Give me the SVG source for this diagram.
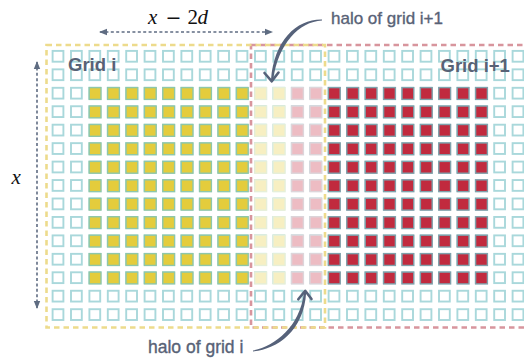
<svg xmlns="http://www.w3.org/2000/svg" xmlns:xlink="http://www.w3.org/1999/xlink" width="524" height="360" viewBox="0 0 524 360">
<style>
.e{fill:#fff;stroke:#A9D8DB;stroke-width:1.9}
.y{fill:#E4CC3C;stroke:#8EC7A9;stroke-width:1.4}
.ly{fill:#F7EFC2;stroke:#E6EFD8;stroke-width:1.4}
.lp{fill:#EDBCC3;stroke:#DDD5DA;stroke-width:1.4}
.r{fill:#C12A3E;stroke:#7FA1AB;stroke-width:1.4}
.box{fill:none;stroke-width:2.6;stroke-dasharray:5.5 4}
.lbl{font-family:"Liberation Sans",Arial,sans-serif;fill:#586276}
.med{stroke:#586276;stroke-width:0.35}
.dim{fill:none;stroke:#5F6C82;stroke-width:1.6;stroke-dasharray:3 2.4}
.math{font-family:"Liberation Serif","Times New Roman",serif;fill:#111}
.curve{fill:#56627A}
.head{fill:none;stroke:#56627A;stroke-width:2.6;stroke-linecap:round;stroke-linejoin:round}
</style>
<defs>
<marker id="ah" viewBox="0 0 8 8" refX="7" refY="4" markerWidth="8" markerHeight="8" markerUnits="userSpaceOnUse" orient="auto-start-reverse">
<path d="M0,0.8 L8,4 L0,7.2 Z" fill="#5F6C82"/>
</marker>
<g id="erow">
<rect class="e" x="52.6" y="0" width="10.8" height="10.8"/>
<rect class="e" x="71" y="0" width="10.8" height="10.8"/>
<rect class="e" x="89.4" y="0" width="10.8" height="10.8"/>
<rect class="e" x="107.8" y="0" width="10.8" height="10.8"/>
<rect class="e" x="126.2" y="0" width="10.8" height="10.8"/>
<rect class="e" x="144.6" y="0" width="10.8" height="10.8"/>
<rect class="e" x="163" y="0" width="10.8" height="10.8"/>
<rect class="e" x="181.4" y="0" width="10.8" height="10.8"/>
<rect class="e" x="199.8" y="0" width="10.8" height="10.8"/>
<rect class="e" x="218.2" y="0" width="10.8" height="10.8"/>
<rect class="e" x="236.6" y="0" width="10.8" height="10.8"/>
<rect class="e" x="255" y="0" width="10.8" height="10.8"/>
<rect class="e" x="273.4" y="0" width="10.8" height="10.8"/>
<rect class="e" x="291.8" y="0" width="10.8" height="10.8"/>
<rect class="e" x="310.2" y="0" width="10.8" height="10.8"/>
<rect class="e" x="328.6" y="0" width="10.8" height="10.8"/>
<rect class="e" x="347" y="0" width="10.8" height="10.8"/>
<rect class="e" x="365.4" y="0" width="10.8" height="10.8"/>
<rect class="e" x="383.8" y="0" width="10.8" height="10.8"/>
<rect class="e" x="402.2" y="0" width="10.8" height="10.8"/>
<rect class="e" x="420.6" y="0" width="10.8" height="10.8"/>
<rect class="e" x="439" y="0" width="10.8" height="10.8"/>
<rect class="e" x="457.4" y="0" width="10.8" height="10.8"/>
<rect class="e" x="475.8" y="0" width="10.8" height="10.8"/>
<rect class="e" x="494.2" y="0" width="10.8" height="10.8"/>
<rect class="e" x="512.6" y="0" width="10.8" height="10.8"/>
</g>
<g id="frow">
<rect class="y" x="89.2" y="-0.2" width="11.8" height="11.8"/>
<rect class="y" x="107.6" y="-0.2" width="11.8" height="11.8"/>
<rect class="y" x="126" y="-0.2" width="11.8" height="11.8"/>
<rect class="y" x="144.4" y="-0.2" width="11.8" height="11.8"/>
<rect class="y" x="162.8" y="-0.2" width="11.8" height="11.8"/>
<rect class="y" x="181.2" y="-0.2" width="11.8" height="11.8"/>
<rect class="y" x="199.6" y="-0.2" width="11.8" height="11.8"/>
<rect class="y" x="218" y="-0.2" width="11.8" height="11.8"/>
<rect class="y" x="236.4" y="-0.2" width="11.8" height="11.8"/>
<rect class="ly" x="254.8" y="-0.2" width="11.8" height="11.8"/>
<rect class="ly" x="273.2" y="-0.2" width="11.8" height="11.8"/>
<rect class="lp" x="291.6" y="-0.2" width="11.8" height="11.8"/>
<rect class="lp" x="310" y="-0.2" width="11.8" height="11.8"/>
<rect class="r" x="328.4" y="-0.2" width="11.8" height="11.8"/>
<rect class="r" x="346.8" y="-0.2" width="11.8" height="11.8"/>
<rect class="r" x="365.2" y="-0.2" width="11.8" height="11.8"/>
<rect class="r" x="383.6" y="-0.2" width="11.8" height="11.8"/>
<rect class="r" x="402" y="-0.2" width="11.8" height="11.8"/>
<rect class="r" x="420.4" y="-0.2" width="11.8" height="11.8"/>
<rect class="r" x="438.8" y="-0.2" width="11.8" height="11.8"/>
<rect class="r" x="457.2" y="-0.2" width="11.8" height="11.8"/>
<rect class="r" x="475.6" y="-0.2" width="11.8" height="11.8"/>
</g>
</defs>
<rect width="524" height="360" fill="#fff"/>
<g id="cells">
<use href="#erow" y="50.9"/>
<use href="#erow" y="69.35"/>
<use href="#erow" y="87.8"/>
<use href="#erow" y="106.25"/>
<use href="#erow" y="124.7"/>
<use href="#erow" y="143.15"/>
<use href="#erow" y="161.6"/>
<use href="#erow" y="180.05"/>
<use href="#erow" y="198.5"/>
<use href="#erow" y="216.95"/>
<use href="#erow" y="235.4"/>
<use href="#erow" y="253.85"/>
<use href="#erow" y="272.3"/>
<use href="#erow" y="290.75"/>
<use href="#erow" y="309.2"/>
<use href="#frow" y="87.8"/>
<use href="#frow" y="106.25"/>
<use href="#frow" y="124.7"/>
<use href="#frow" y="143.15"/>
<use href="#frow" y="161.6"/>
<use href="#frow" y="180.05"/>
<use href="#frow" y="198.5"/>
<use href="#frow" y="216.95"/>
<use href="#frow" y="235.4"/>
<use href="#frow" y="253.85"/>
<use href="#frow" y="272.3"/>
</g>
<g id="grid-i1">
<rect class="box" x="251" y="45" width="285" height="282.5" stroke="#D8959D"/>
<text class="lbl" x="440.5" y="71.5" font-size="18.5" font-weight="bold">Grid i+1</text>
</g>
<g id="grid-i">
<rect class="box" x="46.5" y="45" width="278.5" height="282.5" stroke="#EDDB8C"/>
<text class="lbl" x="68" y="70.5" font-size="18.5" font-weight="bold">Grid i</text>
</g>
<g id="connectors">
<line class="dim" x1="100" y1="32" x2="272" y2="32" marker-start="url(#ah)" marker-end="url(#ah)"/>
<line class="dim" x1="37" y1="62" x2="37" y2="308" marker-start="url(#ah)" marker-end="url(#ah)"/>
<path class="curve" d="M322,19.6 C297,19 274,40 271,80 L273.2,80 C278,44 299,21.5 322,20.4 Z"/>
<polyline class="head" points="264.5,73 271.8,81.3 278.5,72.5"/>
<path class="curve" d="M253,351.4 C276,349.5 304,332 306.2,292 L304,292 C300,328 274,346 253,350.6 Z"/>
<polyline class="head" points="298.3,299.3 305.2,290.8 311.5,299"/>
</g>
<g id="labels">
<text class="lbl med" x="331" y="23.5" font-size="17">halo of grid i+1</text>
<text class="lbl med" x="148" y="352.5" font-size="17.5">halo of grid i</text>
<text class="math" x="148" y="24" font-size="21" font-style="italic">x</text>
<text x="165.5" y="24" font-size="19" font-family="DejaVu Serif,serif" fill="#111">−</text>
<text class="math" x="187.5" y="24" font-size="21">2</text>
<text class="math" x="197.5" y="24" font-size="21" font-style="italic">d</text>
<text class="math" x="11.5" y="184" font-size="21" font-style="italic">x</text>
</g>
</svg>
